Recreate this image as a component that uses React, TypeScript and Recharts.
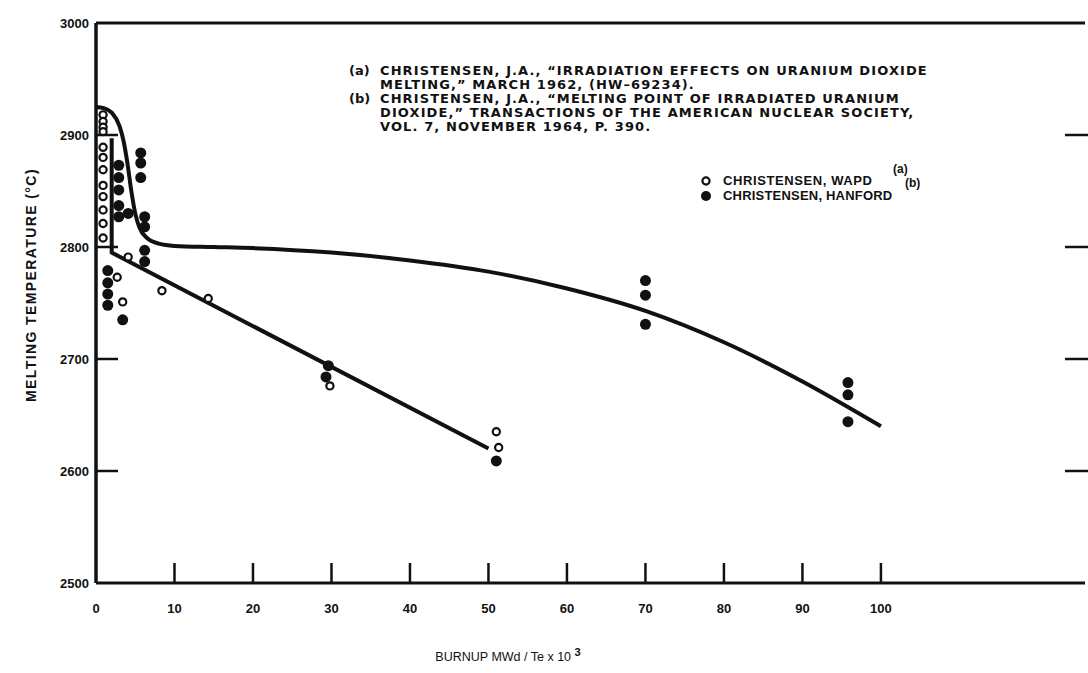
import React from 'react';
import { ComposedChart, Line, Scatter, XAxis, YAxis } from 'recharts';

// burnup (MWd/Te x 10^3) vs melting temperature (°C)
const upperX = [0, 1, 2, 3, 3.5, 4, 4.5, 5, 5.5, 6.5, 8, 10, 15, 20, 30, 40, 50, 60, 70, 80, 90, 100];
const upperT = [2925, 2924, 2920, 2908, 2895, 2875, 2850, 2830, 2818, 2808, 2803, 2801, 2800, 2799, 2795, 2788, 2778, 2763, 2743, 2715, 2680, 2640];

const lowerX = [2, 2, 50];
const lowerT = [2897, 2795, 2620];

const wapdX = [0.9, 0.9, 0.9, 0.9, 0.9, 0.9, 0.9, 0.9, 0.9, 0.9, 0.9, 0.9, 2.7, 3.4, 4.1, 8.4, 14.3, 29.8, 51, 51.3];
const wapdT = [2918, 2912, 2907, 2903, 2889, 2880, 2869, 2855, 2845, 2833, 2821, 2808, 2773, 2751, 2791, 2761, 2754, 2676, 2635, 2621];

const hanfordX = [1.5, 1.5, 1.5, 1.5, 3.4, 2.9, 2.9, 2.9, 2.9, 2.9, 4.1, 5.7, 5.7, 5.7, 6.2, 6.2, 6.2, 6.2, 29.3, 29.6, 51, 70, 70, 70, 95.8, 95.8, 95.8];
const hanfordT = [2779, 2768, 2758, 2748, 2735, 2873, 2862, 2851, 2837, 2827, 2830, 2884, 2875, 2862, 2827, 2818, 2797, 2787, 2684, 2694, 2609, 2770, 2757, 2731, 2679, 2668, 2644];

const xTicks = [0, 10, 20, 30, 40, 50, 60, 70, 80, 90, 100];
const topTicks = [10, 20, 30, 40, 50, 60, 70, 80, 90, 100];
const yTicks = [2500, 2600, 2700, 2800, 2900, 3000];

const refLines = [
  ['(a)', 'CHRISTENSEN, J.A., \u201CIRRADIATION EFFECTS ON URANIUM DIOXIDE'],
  ['', 'MELTING,\u201D MARCH 1962, (HW\u201369234).'],
  ['(b)', 'CHRISTENSEN, J.A., \u201CMELTING POINT OF IRRADIATED URANIUM'],
  ['', 'DIOXIDE,\u201D TRANSACTIONS OF THE AMERICAN NUCLEAR SOCIETY,'],
  ['', 'VOL. 7, NOVEMBER 1964, P. 390.'],
];

const FONT = "'Liberation Sans', Arial, sans-serif";
const WIDE = "'DejaVu Sans', 'Liberation Sans', sans-serif";
const INK = '#111';
const PLOT_W = 989;

const zip = (xs: number[], ts: number[]) => xs.map((x, i) => ({ x, t: ts[i] }));

const upperData = zip(upperX, upperT);
const lowerData = zip(lowerX, lowerT);
const wapdData = zip(wapdX, wapdT);
const hanfordData = zip(hanfordX, hanfordT);

// left labels, inward ticks on the left edge and the short marks on the right edge
function LeftTick(props: any) {
  const { x, y, payload } = props;
  const v = payload.value;
  const inner = v > 2500 && v < 3000;
  return (
    <g>
      {inner && <line x1={x} x2={x + 22} y1={y} y2={y} stroke={INK} strokeWidth={2.5} />}
      {inner && <line x1={x + PLOT_W - 20} x2={x + PLOT_W + 3} y1={y} y2={y} stroke={INK} strokeWidth={2.5} />}
      <text x={x - 7} y={y + 5} textAnchor="end" fontFamily={FONT} fontWeight="bold" fontSize={13} fill={INK}>
        {v}
      </text>
    </g>
  );
}

function BottomTick(props: any) {
  const { x, y, payload } = props;
  const v = payload.value;
  return (
    <g>
      {v > 0 && <line x1={x} x2={x} y1={y} y2={y - 20} stroke={INK} strokeWidth={2.5} />}
      <text x={x} y={y + 30} textAnchor="middle" fontFamily={FONT} fontWeight="bold" fontSize={13} fill={INK}>
        {v}
      </text>
    </g>
  );
}

function TopTick(props: any) {
  const { x, y } = props;
  return <line x1={x} x2={x} y1={y} y2={y + 22} stroke={INK} strokeWidth={2.5} />;
}

const hollow = (p: any) => (
  <circle cx={p.cx} cy={p.cy} r={3.6} fill="#fff" stroke={INK} strokeWidth={2.2} />
);
const filled = (p: any) => <circle cx={p.cx} cy={p.cy} r={5.5} fill={INK} />;

const textStyle: React.CSSProperties = {
  position: 'absolute',
  fontFamily: FONT,
  fontWeight: 'bold',
  color: INK,
  whiteSpace: 'pre',
};

export default function App() {
  return (
    <div style={{ position: 'absolute', left: 0, top: 0, width: 1088, height: 673, background: '#fff' }}>
      <ComposedChart width={1088} height={673} margin={{ top: 23, right: 3, left: 96, bottom: 90 }}>
        <XAxis
          dataKey="x"
          type="number"
          domain={[0, 126]}
          ticks={xTicks}
          mirror
          tickSize={0}
          tickMargin={0}
          tickLine={false}
          axisLine={{ stroke: INK, strokeWidth: 3 }}
          tick={<BottomTick />}
          interval={0}
        />
        <XAxis
          xAxisId="top"
          orientation="top"
          type="number"
          domain={[0, 126]}
          ticks={topTicks}
          mirror
          tickSize={0}
          tickMargin={0}
          tickLine={false}
          axisLine={{ stroke: INK, strokeWidth: 3 }}
          tick={<TopTick />}
          interval={0}
        />
        <YAxis
          dataKey="t"
          type="number"
          domain={[2500, 3000]}
          ticks={yTicks}
          mirror
          tickSize={0}
          tickMargin={0}
          tickLine={false}
          axisLine={{ stroke: INK, strokeWidth: 3.5 }}
          tick={<LeftTick />}
          interval={0}
        />
        <Line
          data={upperData}
          dataKey="t"
          type="monotone"
          stroke={INK}
          strokeWidth={4}
          dot={false}
          isAnimationActive={false}
        />
        <Line
          data={lowerData}
          dataKey="t"
          type="linear"
          stroke={INK}
          strokeWidth={4}
          dot={false}
          isAnimationActive={false}
        />
        <Scatter data={wapdData} dataKey="t" shape={hollow} isAnimationActive={false} />
        <Scatter data={hanfordData} dataKey="t" shape={filled} isAnimationActive={false} />
      </ComposedChart>

      {refLines.map(([tag, line], i) => (
        <div
          key={i}
          style={{
            ...textStyle,
            fontFamily: WIDE,
            left: 349,
            top: 64 + i * 14,
            fontSize: 13,
            lineHeight: '13px',
            letterSpacing: 1.1,
          }}
        >
          <span style={{ display: 'inline-block', width: 31, letterSpacing: 0 }}>{tag}</span>
          {line}
        </div>
      ))}

      <svg style={{ position: 'absolute', left: 0, top: 0 }} width={1088} height={673}>
        <circle cx={706} cy={181} r={3.6} fill="#fff" stroke={INK} strokeWidth={2.2} />
        <circle cx={706} cy={196} r={5} fill={INK} />
      </svg>
      <div style={{ ...textStyle, left: 723, top: 174, fontSize: 13, lineHeight: '14px', letterSpacing: 0.6 }}>
        CHRISTENSEN, WAPD
      </div>
      <div style={{ ...textStyle, left: 893, top: 163, fontSize: 12, lineHeight: '12px' }}>(a)</div>
      <div style={{ ...textStyle, left: 723, top: 189, fontSize: 13, lineHeight: '14px', letterSpacing: 0.2 }}>
        CHRISTENSEN, HANFORD
      </div>
      <div style={{ ...textStyle, left: 905, top: 177, fontSize: 12, lineHeight: '12px' }}>(b)</div>

      <div
        style={{
          ...textStyle,
          left: 31,
          top: 285,
          fontSize: 14,
          letterSpacing: 1.4,
          transform: 'translate(-50%, -50%) rotate(-90deg)',
        }}
      >
        MELTING TEMPERATURE (°C)
      </div>

      <div style={{ ...textStyle, left: 508, top: 655, fontSize: 12.5, fontWeight: 'normal', transform: 'translate(-50%, -50%)' }}>
        BURNUP MWd / Te x 10 <sup style={{ fontSize: 11, fontWeight: 'bold' }}>3</sup>
      </div>
    </div>
  );
}
